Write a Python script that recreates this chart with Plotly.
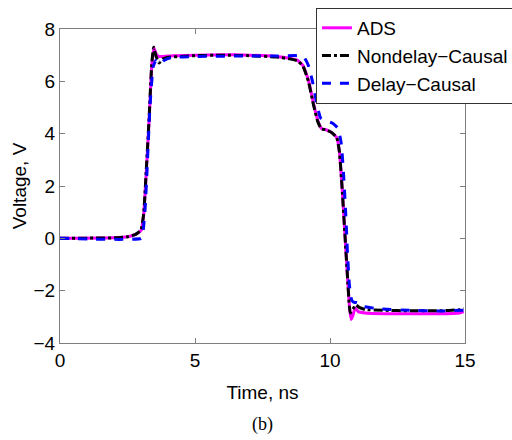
import plotly.graph_objects as go

# ---- data ----
t_ads = [0, 2.0, 2.5, 2.8, 3.0, 3.1, 3.2, 3.3, 3.4, 3.48, 3.56, 3.65, 3.8, 4.2, 5, 6, 7, 8, 8.5,
         8.8, 9.0, 9.2, 9.4, 9.55, 9.68, 9.85, 10.05, 10.25, 10.35, 10.45, 10.55, 10.65, 10.72,
         10.78, 10.85, 10.93, 11.05, 11.3, 12, 13, 14, 14.8, 14.95]
v_ads = [0, 0.02, 0.06, 0.15, 0.3, 0.9, 2.6, 4.5, 6.6, 7.27, 7.05, 6.95, 6.95, 6.98, 7.0, 7.02,
         7.0, 6.95, 6.88, 6.8, 6.6, 6.05, 5.1, 4.5, 4.2, 4.15, 4.05, 3.85, 3.3, 1.9, 0.2, -1.5,
         -2.6, -3.1, -2.95, -2.65, -2.8, -2.85, -2.88, -2.88, -2.88, -2.85, -2.8]

t_nd = [0, 2.0, 2.5, 2.8, 3.0, 3.1, 3.2, 3.3, 3.4, 3.47, 3.56, 3.67, 3.8, 4.0, 4.5, 5, 6, 7, 8,
        8.5, 8.8, 9.0, 9.2, 9.4, 9.55, 9.68, 9.85, 10.05, 10.25, 10.35, 10.45, 10.55, 10.65,
        10.75, 10.85, 10.96, 11.1, 11.3, 12, 13, 14, 14.8, 14.95]
v_nd = [0, 0.02, 0.06, 0.15, 0.32, 0.95, 2.7, 4.6, 6.7, 7.3, 6.95, 6.7, 6.85, 6.92, 6.95, 6.98,
        7.0, 6.98, 6.93, 6.86, 6.78, 6.58, 6.0, 5.05, 4.45, 4.18, 4.15, 4.05, 3.85, 3.3, 1.9,
        0.2, -1.5, -2.85, -2.7, -2.55, -2.65, -2.72, -2.75, -2.77, -2.77, -2.73, -2.68]

t_dc = [0, 3.0, 3.07, 3.15, 3.22, 3.33, 3.45, 3.55, 3.7, 3.85, 4.1, 5, 7, 8, 8.8, 9.05, 9.2,
        9.35, 9.5, 9.65, 9.8, 10.1, 10.3, 10.42, 10.5, 10.58, 10.65, 10.72, 10.8, 10.9, 11.0,
        11.2, 11.9, 13, 14, 14.95]
v_dc = [0, 0, 0.2, 1.1, 2.5, 5.0, 6.55, 6.8, 6.65, 6.8, 6.9, 6.95, 6.97, 6.97, 6.98, 6.9, 6.6,
        6.0, 5.2, 4.6, 4.5, 4.4, 4.2, 3.6, 2.5, 1.0, -0.6, -1.8, -2.35, -2.45, -2.45, -2.6,
        -2.7, -2.75, -2.78, -2.75]

x_ticks = [0, 5, 10, 15]
y_ticks = [-4, -2, 0, 2, 4, 6, 8]

FONT = "Liberation Sans, Arial, sans-serif"
FS = 19

fig = go.Figure()
fig.add_trace(go.Scatter(x=t_ads, y=v_ads, mode="lines", name="ADS",
                         line=dict(color="#ff00ff", width=3, shape="spline", smoothing=0.4)))
fig.add_trace(go.Scatter(x=t_nd, y=v_nd, mode="lines", name="Nondelay\u2212Causal",
                         line=dict(color="black", width=3, dash="dashdot", shape="spline", smoothing=0.4)))
fig.add_trace(go.Scatter(x=t_dc, y=v_dc, mode="lines", name="Delay\u2212Causal",
                         line=dict(color="#0000ff", width=3, dash="dash", shape="spline", smoothing=0.4)))

axis_common = dict(showgrid=False, zeroline=False, showline=True, mirror="ticks",
                   linecolor="#7f7f7f", linewidth=1, ticks="inside", ticklen=5,
                   tickcolor="#7f7f7f", tickfont=dict(family=FONT, size=FS, color="black"))

fig.update_xaxes(range=[0, 15], tickvals=x_ticks,
                 title=dict(text="Time, ns", font=dict(family=FONT, size=FS, color="black"), standoff=15),
                 **axis_common)
fig.update_yaxes(range=[-4, 8], tickvals=y_ticks,
                 title=dict(text="Voltage, V", font=dict(family=FONT, size=FS, color="black"), standoff=1),
                 **axis_common)

fig.add_annotation(text="(b)", xref="paper", yref="paper", x=0.5, y=-0.26,
                   xanchor="center", yanchor="middle", showarrow=False,
                   font=dict(family="Liberation Serif, Times New Roman, serif", size=18, color="black"))

fig.update_layout(
    width=512, height=440,
    margin=dict(l=60, r=47, t=29, b=97, autoexpand=False),
    paper_bgcolor="white", plot_bgcolor="white",
    showlegend=True,
    legend=dict(x=0.632, y=1.067, xanchor="left", yanchor="top",
                bgcolor="white", bordercolor="#333333", borderwidth=1,
                font=dict(family=FONT, size=FS, color="black"),
                tracegroupgap=0, itemwidth=30),
)

fig.write_html("out.html")
